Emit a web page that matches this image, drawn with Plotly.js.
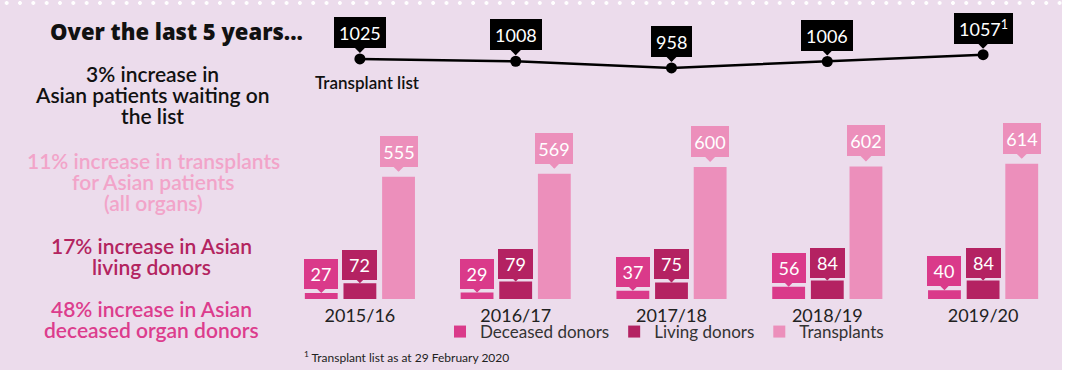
<!DOCTYPE html>
<html>
<head>
<meta charset="utf-8">
<script src="https://cdn.plot.ly/plotly-3.0.1.min.js"></script>
<style>
  html, body { margin: 0; padding: 0; background: #ffffff; }
  #wrap { position: relative; width: 1067px; height: 373px; overflow: hidden; background: #ffffff; }
  #bg { position: absolute; left: 0; top: 0; width: 1062px; height: 370px; background: #ecdcec; }
  #dots { position: absolute; left: 0; top: 0; width: 1062px; height: 6px;
          background: radial-gradient(circle at center, #ffffff 0, #ffffff 1.6px, rgba(255,255,255,0) 2.2px) 0 0 / 13.33px 6px repeat-x; }
  #chart { position: absolute; left: 0; top: 0; width: 1067px; height: 373px; }
</style>
</head>
<body>
<div id="wrap">
  <div id="bg"></div>
  <div id="dots"></div>
  <div id="chart"></div>
</div>
<script>
// ---- data ----
const categories = ['2015/16', '2016/17', '2017/18', '2018/19', '2019/20'];
const deceasedDonors = [27, 29, 37, 56, 40];
const livingDonors = [72, 79, 75, 84, 84];
const transplants = [555, 569, 600, 602, 614];
const transplantList = [1025, 1008, 958, 1006, 1057];
const transplantListLabels = ['1025', '1008', '958', '1006', '1057<sup>1</sup>'];

// ---- styles ----
const C_DEC = '#da3a8a';
const C_LIV = '#b42262';
const C_TRA = '#ec8fbb';
const FONT = 'Lato, "Open Sans", sans-serif';

const xIdx = categories.map((c, i) => i);

const traces = [
  { type: 'bar', name: 'Deceased donors', x: xIdx, y: deceasedDonors, marker: { color: C_DEC }, hoverinfo: 'none' },
  { type: 'bar', name: 'Living donors', x: xIdx, y: livingDonors, marker: { color: C_LIV }, hoverinfo: 'none' },
  { type: 'bar', name: 'Transplants', x: xIdx, y: transplants, marker: { color: C_TRA }, hoverinfo: 'none' },
  { type: 'scatter', mode: 'lines+markers', x: xIdx, y: transplantList, yaxis: 'y2', showlegend: false,
    line: { color: '#000000', width: 2.5 }, marker: { color: '#000000', size: 11 }, cliponaxis: false, hoverinfo: 'none' }
];

const slot = (1 - 0.256) / 3;
const annotations = [];

function callout(x, y, yref, text, color, ay, standoff, w, h) {
  annotations.push({
    x: x, y: y, xref: 'x', yref: yref, text: text,
    showarrow: true, arrowhead: 1, arrowsize: 1, arrowwidth: 1.8, arrowcolor: color,
    ax: 0, ay: ay, standoff: standoff,
    bgcolor: color, borderwidth: 0, borderpad: 3, width: w, height: h,
    font: { family: FONT, size: 18, color: '#ffffff', weight: 'normal' }, align: 'center', valign: 'middle'
  });
}

xIdx.forEach(i => {
  callout(i - slot, deceasedDonors[i], 'y', String(deceasedDonors[i]), C_DEC, -19, 0, 28, 24);
  callout(i, livingDonors[i], 'y', String(livingDonors[i]), C_LIV, -18, 0, 29, 24);
  callout(i + slot, transplants[i], 'y', String(transplants[i]), C_TRA, -25.5, 5, 32, 25);
  annotations.push({
    x: i, y: transplantList[i], xref: 'x', yref: 'y2', text: transplantListLabels[i],
    showarrow: true, arrowhead: 1, arrowsize: 1, arrowwidth: 1.8, arrowcolor: '#000000',
    ax: 0, ay: -26.5, standoff: 6,
    bgcolor: '#000000', borderwidth: 0, borderpad: 5, height: 21,
    font: { family: FONT, size: 18, color: '#ffffff', weight: 'normal' }, align: 'center', valign: 'middle'
  });
});

// left-hand text (paper coords: plot area x 282..1061, y 10..299)
const L = 282, PW = 779, T = 10, PH = 289;
const px = v => (v - L) / PW;
const py = v => (T + PH - v) / PH;

function txt(x, y, text, size, color, anchor, weight, family) {
  annotations.push({
    x: px(x), y: py(y), xref: 'paper', yref: 'paper', text: text, showarrow: false,
    xanchor: anchor || 'center', yanchor: 'middle',
    font: { family: family || FONT, size: size, color: color, weight: weight || 600 }
  });
}

txt(176, 31, 'Over the last 5 years...', 22, '#111111', 'center', 800, '"Open Sans", Lato, sans-serif');
txt(152, 74, '3% increase in', 21, '#111111');
txt(152, 95, 'Asian patients waiting on', 21, '#111111');
txt(152, 116, 'the list', 21, '#111111');
txt(153, 160, '11% increase in transplants', 21, '#f2a4c9');
txt(153, 181, 'for Asian patients', 21, '#f2a4c9');
txt(153, 202, '(all organs)', 21, '#f2a4c9');
txt(151, 245, '17% increase in Asian', 21, '#b3245f');
txt(151, 266, 'living donors', 21, '#b3245f');
txt(151, 308, '48% increase in Asian', 21, '#dc3d8d');
txt(151, 329, 'deceased organ donors', 21, '#dc3d8d');
txt(313, 82, 'Transplant list', 17, '#111111', 'left');
txt(302, 357, '<sup>1</sup> Transplant list as at 29 February 2020', 12, '#222222', 'left', 'normal');

const layout = {
  width: 1067, height: 373,
  margin: { l: L, r: 6, t: T, b: 373 - T - PH, pad: 0 },
  paper_bgcolor: 'rgba(0,0,0,0)', plot_bgcolor: 'rgba(0,0,0,0)',
  barmode: 'group', bargap: 0.256, bargroupgap: 0.15,
  font: { family: FONT, color: '#222222' },
  xaxis: {
    range: [-0.5, 4.5], tickmode: 'array', tickvals: xIdx, ticktext: categories,
    showgrid: false, zeroline: false, showline: false, ticks: '', fixedrange: true,
    tickfont: { family: FONT, size: 18, color: '#222222', weight: 'normal' }, ticklabelstandoff: 4
  },
  yaxis: { domain: [0, 0.62], range: [0, 814], visible: false, fixedrange: true },
  yaxis2: { domain: [0.7, 1], range: [745, 1388], visible: false, anchor: 'x', fixedrange: true },
  showlegend: true,
  legend: {
    orientation: 'h', x: px(440), xanchor: 'left', y: py(332), yanchor: 'middle',
    bgcolor: 'rgba(0,0,0,0)', font: { family: FONT, size: 17, color: '#333333', weight: 'normal' },
    itemclick: false, itemdoubleclick: false
  },
  annotations: annotations
};

Plotly.newPlot('chart', traces, layout, { displayModeBar: false, staticPlot: true });
</script>
</body>
</html>
